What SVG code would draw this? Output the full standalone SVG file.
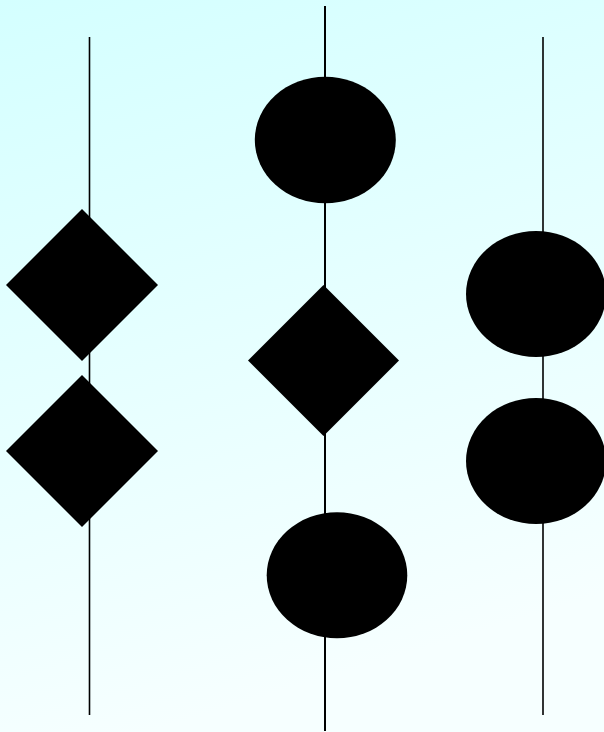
<svg xmlns="http://www.w3.org/2000/svg" width="604" height="732" viewBox="0 0 604 732">
  <defs>
    <linearGradient id="bg" x1="0" y1="0" x2="0.25" y2="1">
      <stop offset="0" stop-color="#d4ffff"/>
      <stop offset="1" stop-color="#f6ffff"/>
    </linearGradient>
  </defs>
  <style>
    .wire { stroke: #000; fill: none; }
    .shape { fill: #000; stroke: none; }
  </style>
  <rect x="0" y="0" width="604" height="732" fill="url(#bg)"/>
  <g id="connectors">
    <line class="wire" x1="89.5" y1="37" x2="89.5" y2="715" stroke-width="1.6"/>
    <line class="wire" x1="325" y1="6" x2="325" y2="731" stroke-width="2"/>
    <line class="wire" x1="543" y1="37" x2="543" y2="715" stroke-width="1.6"/>
  </g>
  <g id="diamond-left-1"><polygon class="shape" points="82,209 158,285 82,361 6,285"/></g>
  <g id="diamond-left-2"><polygon class="shape" points="82,375 158,451 82,527 6,451"/></g>
  <g id="ellipse-mid-top"><ellipse class="shape" cx="325.3" cy="140" rx="70.5" ry="63.3"/></g>
  <g id="diamond-mid"><polygon class="shape" points="323.5,285 399,360.5 323.5,436 248,360.5"/></g>
  <g id="ellipse-mid-bottom"><ellipse class="shape" cx="337" cy="575.3" rx="70.3" ry="63"/></g>
  <g id="ellipse-right-1"><ellipse class="shape" cx="536" cy="294" rx="70" ry="63"/></g>
  <g id="ellipse-right-2"><ellipse class="shape" cx="536" cy="461" rx="70" ry="63"/></g>
</svg>
